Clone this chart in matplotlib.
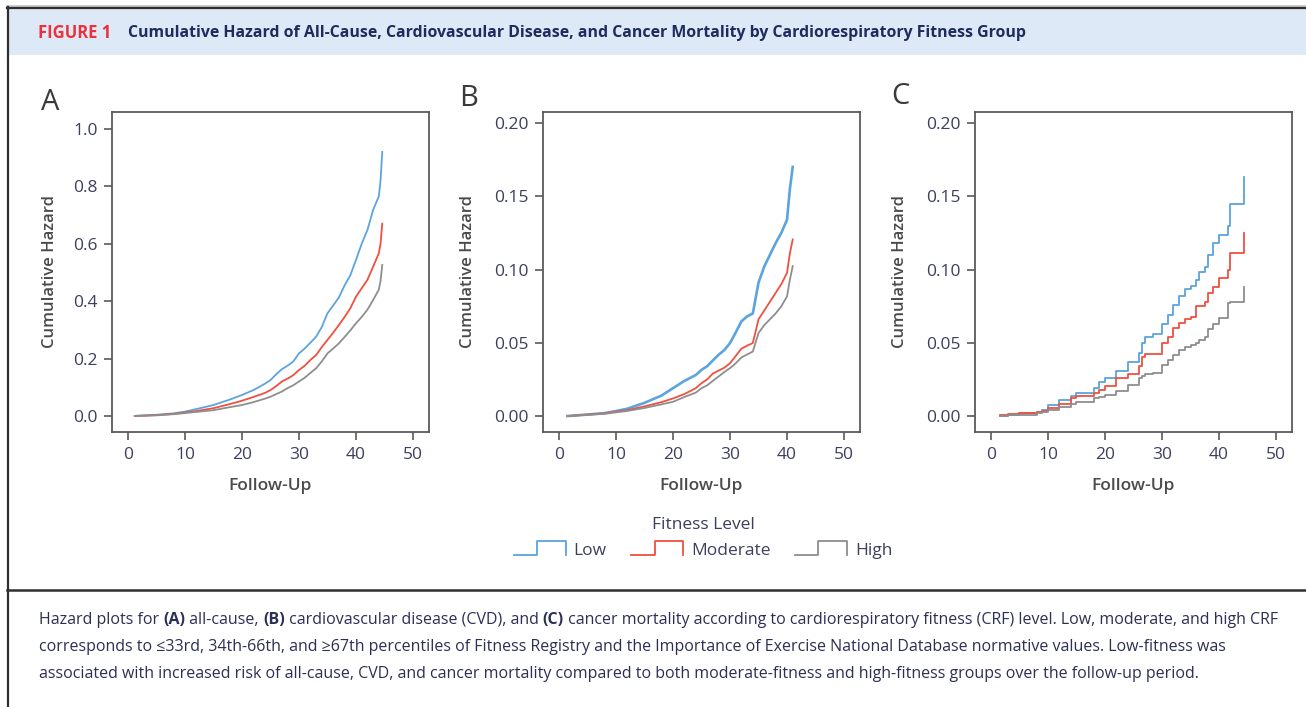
import numpy as np
import matplotlib
matplotlib.use("Agg")
import matplotlib.pyplot as plt
from matplotlib.lines import Line2D
from matplotlib.patches import Rectangle
from matplotlib.legend_handler import HandlerBase

# ---------------- data ----------------
groups = ["Low", "Moderate", "High"]
colors = ["#5BA4DD", "#F0503F", "#8E8E8E"]

A_time = [1.2, 3, 5, 8, 10, 12, 15, 18, 20, 22, 24, 25, 26, 27, 28, 29, 30, 31, 32,
          33, 34, 35, 36, 37, 38, 39, 40, 41, 42, 43, 44, 44.3, 44.6]
A_low = [0, 0.002, 0.004, 0.009, 0.015, 0.024, 0.038, 0.058, 0.073, 0.09, 0.112, 0.125,
         0.145, 0.163, 0.175, 0.19, 0.218, 0.235, 0.255, 0.276, 0.31, 0.358, 0.385, 0.413,
         0.455, 0.49, 0.544, 0.6, 0.648, 0.718, 0.765, 0.82, 0.92]
A_mod = [0, 0.001, 0.003, 0.007, 0.012, 0.017, 0.027, 0.042, 0.053, 0.066, 0.08, 0.09,
         0.104, 0.12, 0.13, 0.142, 0.16, 0.175, 0.195, 0.212, 0.24, 0.265, 0.29, 0.317,
         0.345, 0.375, 0.416, 0.445, 0.474, 0.52, 0.567, 0.6, 0.67]
A_high = [0, 0.001, 0.002, 0.006, 0.01, 0.014, 0.02, 0.031, 0.038, 0.048, 0.06, 0.067,
          0.076, 0.085, 0.097, 0.107, 0.12, 0.133, 0.15, 0.166, 0.19, 0.218, 0.235, 0.253,
          0.275, 0.298, 0.323, 0.345, 0.37, 0.404, 0.44, 0.47, 0.526]

B_time = [1.5, 5, 8, 10, 12, 15, 18, 20, 22, 24, 25, 26, 27, 28, 29, 30, 31, 32, 33, 34,
          35, 36, 37, 38, 39, 40, 40.5, 41]
B_low = [0, 0.001, 0.002, 0.0034, 0.005, 0.009, 0.014, 0.019, 0.024, 0.028, 0.0315, 0.034,
         0.038, 0.0418, 0.045, 0.0498, 0.057, 0.0646, 0.068, 0.07, 0.091, 0.102, 0.11,
         0.118, 0.125, 0.134, 0.155, 0.170]
B_mod = [0, 0.001, 0.0018, 0.003, 0.004, 0.0066, 0.0095, 0.012, 0.015, 0.019, 0.0224,
         0.025, 0.029, 0.031, 0.033, 0.036, 0.041, 0.046, 0.048, 0.0498, 0.066, 0.072,
         0.078, 0.084, 0.09, 0.0977, 0.111, 0.1205]
B_high = [0, 0.0008, 0.0015, 0.0025, 0.0035, 0.0055, 0.008, 0.0097, 0.013, 0.016, 0.019,
          0.021, 0.024, 0.027, 0.03, 0.0327, 0.036, 0.040, 0.042, 0.044, 0.0566, 0.062,
          0.066, 0.07, 0.0749, 0.0817, 0.093, 0.1023]

C_time = [1.5, 3, 5, 8, 9, 10, 12, 14, 15, 18, 19, 20, 22, 24, 26, 26.5, 27, 28.5, 30, 31,
          32, 33, 34, 35, 36, 36.5, 37.5, 38, 39, 40, 41.5, 42, 44.3, 44.3]
C_low = [0, 0.001, 0.0023, 0.003, 0.004, 0.0075, 0.011, 0.014, 0.016, 0.019, 0.023, 0.0257,
         0.031, 0.0369, 0.043, 0.05, 0.054, 0.056, 0.063, 0.069, 0.076, 0.082, 0.087, 0.089,
         0.093, 0.098, 0.102, 0.11, 0.118, 0.1235, 0.13, 0.145, 0.145, 0.163]
C_mod = [0.001, 0.0015, 0.002, 0.003, 0.0035, 0.0055, 0.008, 0.012, 0.0136, 0.016, 0.018,
         0.0205, 0.0257, 0.029, 0.034, 0.040, 0.0423, 0.0423, 0.0496, 0.054, 0.06, 0.0637,
         0.066, 0.0678, 0.075, 0.075, 0.078, 0.084, 0.088, 0.094, 0.0996, 0.111, 0.111, 0.1246]
C_high = [0, 0.0005, 0.001, 0.002, 0.003, 0.0043, 0.006, 0.008, 0.0097, 0.012, 0.013, 0.0143,
          0.017, 0.021, 0.026, 0.027, 0.029, 0.0295, 0.0347, 0.038, 0.0416, 0.045, 0.047,
          0.0484, 0.0496, 0.052, 0.054, 0.0596, 0.063, 0.0666, 0.077, 0.078, 0.078, 0.088]

x_ticks = [0, 10, 20, 30, 40, 50]
A_yticks = [0.0, 0.2, 0.4, 0.6, 0.8, 1.0]
BC_yticks = [0.00, 0.05, 0.10, 0.15, 0.20]

header_label = "FIGURE 1"
header_title = ("Cumulative Hazard of All-Cause, Cardiovascular Disease, and Cancer "
                "Mortality by Cardiorespiratory Fitness Group")
caption_lines = [
    [("Hazard plots for ", False), ("(A)", True), (" all-cause, ", False), ("(B)", True),
     (" cardiovascular disease (CVD), and ", False), ("(C)", True),
     (" cancer mortality according to cardiorespiratory fitness (CRF) level. Low, moderate, and high CRF", False)],
    [("corresponds to \u226433rd, 34th-66th, and \u226567th percentiles of Fitness Registry and the "
      "Importance of Exercise National Database normative values. Low-fitness was", False)],
    [("associated with increased risk of all-cause, CVD, and cancer mortality compared to both "
      "moderate-fitness and high-fitness groups over the follow-up period.", False)],
]

# ---------------- figure ----------------
W, H = 1306, 707
FONT = ["Open Sans", "DejaVu Sans"]
plt.rcParams["font.family"] = FONT
fig = plt.figure(figsize=(W / 100, H / 100), dpi=100)
fig.patch.set_facecolor("white")


def fx(x):
    return x / W


def fy(y):
    return 1 - y / H


# frame / header
fig.patches.append(Rectangle((fx(8), fy(55)), fx(W - 8), (55 - 9) / H, transform=fig.transFigure,
                             facecolor="#DDE9F6", edgecolor="none", zorder=0))
fig.add_artist(Line2D([fx(7), 1], [fy(5.5), fy(5.5)], color="#C8C8C8", lw=2, transform=fig.transFigure))
fig.add_artist(Line2D([fx(7), 1], [fy(8), fy(8)], color="#2E2E2E", lw=1.6, transform=fig.transFigure))
fig.add_artist(Line2D([fx(8), fx(8)], [fy(7), 0], color="#2E2E2E", lw=1.6, transform=fig.transFigure))
fig.add_artist(Line2D([fx(7), 1], [fy(590), fy(590)], color="#2E2E2E", lw=1.8, transform=fig.transFigure))

txt_color = "#3C3F5E"
axis_label_color = "#4A4A4A"

panels = [
    ("A", 112, 49.5, A_time, [A_low, A_mod, A_high], A_yticks, (-0.056, 1.059), "{:.1f}", "default"),
    ("B", 543, 468, B_time, [B_low, B_mod, B_high], BC_yticks, (-0.0109, 0.2075), "{:.2f}", "default"),
    ("C", 975, 900, C_time, [C_low, C_mod, C_high], BC_yticks, (-0.0109, 0.2075), "{:.2f}", "steps-post"),
]
letter_pos = {"A": (50, 103), "B": (469, 98), "C": (900, 97)}

ax_top, ax_bot, ax_w = 112, 432, 317
handles = []
for name, left, ylab_x, t, series, yt, ylim, fmt, ds in panels:
    ax = fig.add_axes([fx(left), fy(ax_bot), ax_w / W, (ax_bot - ax_top) / H])
    for i, (vals, col) in enumerate(zip(series, colors)):
        lw = 1.3
        if name == "B" and i == 0:
            lw = 1.9
        ln, = ax.plot(t, vals, color=col, lw=lw, drawstyle=ds, label=groups[i])
        if name == "A":
            handles.append(ln)
    ax.set_xlim(-2.8, 52.8)
    ax.set_ylim(*ylim)
    ax.set_xticks(x_ticks)
    ax.set_yticks(yt)
    ax.set_yticklabels([fmt.format(v) for v in yt])
    for s in ax.spines.values():
        s.set_color("#5A5A5A")
        s.set_linewidth(1.3)
    ax.tick_params(axis="both", colors="#5A5A5A", labelcolor=txt_color, labelsize=12.5,
                   length=6, width=1.2, direction="out")
    ax.tick_params(axis="y", pad=4)
    ax.tick_params(axis="x", pad=5)
    ax.set_ylabel("Cumulative Hazard", fontsize=12, color=axis_label_color, fontweight="semibold",
                  va="center")
    ax.yaxis.set_label_coords(-(left - ylab_x) / ax_w, 0.5)
    ax.set_xlabel("Follow-Up", fontsize=12.5, color=axis_label_color, fontweight="semibold", va="center")
    ax.xaxis.set_label_coords(0.5, -54 / (ax_bot - ax_top))
    lx, ly = letter_pos[name]
    fig.text(fx(lx), fy(ly), name, fontsize=21, color="#3A3A3A", ha="center", va="center")


class StepHandler(HandlerBase):
    def create_artists(self, legend, orig_handle, xdescent, ydescent, width, height, fontsize, trans):
        x0, y0 = -xdescent, -ydescent
        xs = np.array([0, 0.45, 0.45, 1.0, 1.0]) * width + x0
        ys = np.array([0.0, 0.0, 1.0, 1.0, 0.0]) * height * 1.1 + y0
        ln = Line2D(xs, ys, color=orig_handle.get_color(), lw=1.3)
        ln.set_transform(trans)
        return [ln]


leg = fig.legend(handles=handles, labels=groups, loc="center", bbox_to_anchor=(fx(703), fy(538)),
                 ncol=3, frameon=False, title="Fitness Level", fontsize=12.5, title_fontsize=12.5,
                 handlelength=3.0, handletextpad=0.45, columnspacing=1.4, handleheight=0.8,
                 handler_map={Line2D: StepHandler()})
for tx in leg.get_texts():
    tx.set_color(txt_color)
leg.get_title().set_color(txt_color)

# header text
renderer = fig.canvas.get_renderer()
fig.text(fx(38), fy(33), header_label, fontsize=12, fontweight="bold", color="#E8333C",
         ha="left", va="center")
fig.text(fx(128), fy(33), header_title, fontsize=11.4, fontweight="bold", color="#1D2B5E",
         ha="left", va="center")

# caption with mixed bold pieces
cap_color = "#2C2F55"
cap_size = 11.5
line_y = [620, 647, 674]
for pieces, yy in zip(caption_lines, line_y):
    xpix = 39
    for txt, bold in pieces:
        tobj = fig.text(fx(xpix), fy(yy), txt, fontsize=cap_size, color=cap_color,
                        fontweight="bold" if bold else "normal", ha="left", va="center")
        bb = tobj.get_window_extent(renderer)
        xpix += bb.width

fig.savefig("out.png", dpi=100, facecolor="white")
